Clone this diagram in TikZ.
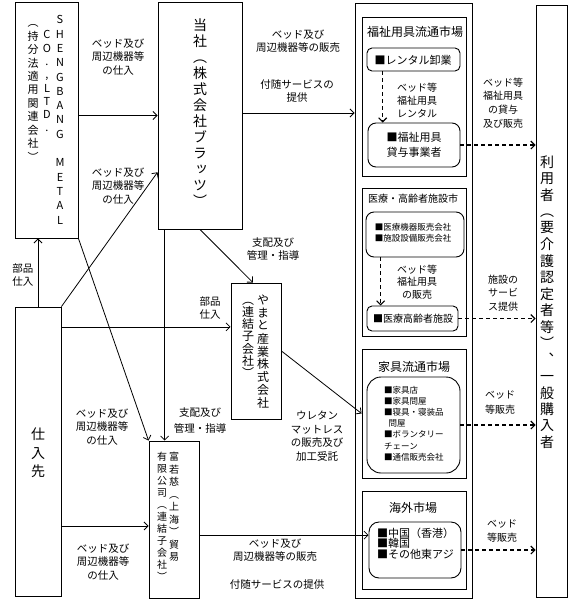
\documentclass[tikz,border=0pt]{standalone}
\usepackage{fontspec}
\newfontfamily\jp{Noto Sans CJK JP}
\newfontfamily\jpv[RawFeature=+vert]{Noto Sans CJK JP}
\usetikzlibrary{arrows.meta,fit,calc}
\ExplSyntaxOn
\NewDocumentCommand\vt{m m}{
  \vbox:n {
    \offinterlineskip
    \tl_map_inline:nn {#2} {
      \hbox_to_wd:nn {1.2em} { \hss \vbox_to_ht:nn {#1} { \vss \hbox:n { \vphantom{国} ##1 } \vss } \hss }
    }
  }
}
\ExplSyntaxOff
\begin{document}
\begin{tikzpicture}[x=1pt,y=-1pt,
  box/.style={draw, line width=0.9pt, inner sep=0pt},
  rbox/.style={draw, line width=0.9pt, inner sep=0pt, rounded corners=#1},
  arr/.style={-{Straight Barb[length=4pt,width=8pt]}, line width=0.8pt},
  darr/.style={arr, dash pattern=on 4pt off 3pt, line width=1.1pt},
  lbl/.style={font=\jp\fontsize{10.5}{13.5}\selectfont, align=center, inner sep=0pt},
  slbl/.style={font=\jp\fontsize{10}{13}\selectfont, align=center, inner sep=0pt},
  vtx/.style={font=\jpv\fontsize{#1}{#1}\selectfont, inner sep=0pt},
  ttl/.style={font=\jp\fontsize{#1}{#1}\selectfont, inner sep=0pt}
]
\useasboundingbox (0,0) rectangle (570,600);

% boxes
\node[box, fit={(15,2)(78,238)}] (shen) {};
\node[box, fit={(158,2)(242,229)}] (tosha) {};
\node[box, fit={(15,307)(61,596)}] (shiire) {};
\node[box, fit={(231,283)(281,419)}] (yamato) {};
\node[box, fit={(149,441)(199,598)}] (fuja) {};
\node[box, fit={(355,3)(472,598)}] (outer) {};
\node[box, fit={(536,5)(567,597)}] (user) {};
\node[box, fit={(362,17)(466,176)}] (m1) {};
\node[rbox=5pt, fit={(367,48)(460,71)}] (r1a) {};
\node[rbox=8pt, fit={(368,123)(460,167)}] (r1b) {};
\node[box, fit={(362,188)(466,336)}] (m2) {};
\node[rbox=8pt, fit={(366,212)(464,257)}] (r2a) {};
\node[rbox=5pt, fit={(367,306)(458,331)}] (r2b) {};
\node[box, fit={(362,349)(466,478)}] (m3) {};
\node[rbox=14pt, fit={(367,377)(460,473)}] (r3) {};
\node[box, fit={(362,491)(466,589)}] (m4) {};
\node[rbox=10pt, fit={(369,522)(461,578)}] (r4) {};

% vertical texts
\node[vtx=11] (tshen1) at (60,120) {\vt{14.3pt}{SHENGBANG{}METAL}};
\node[vtx=11] (tshen2) at (47,81.5) {\vt{13.3pt}{CO.,LTD.}};
\node[vtx=11] (tshen3) at (33,90) {\vt{13.4pt}{（持分法適用関連会社）}};
\node[vtx=14] (ttosha) at (200,113) {\vt{16pt}{当社（株式会社ブラッツ）}};
\node[vtx=14] (tshiire) at (38,453) {\vt{18.5pt}{仕入先}};
\node[vtx=14] (tuser) at (547,302) {\vt{16.5pt}{利用者（要介護認定者等）、一般購入者}};
\node[vtx=12] (tyam1) at (263,351.5) {\vt{12.9pt}{やまと産業株式会社}};
\node[vtx=12] (tyam2) at (248,336.5) {\vt{12.2pt}{（連結子会社）}};
\node[vtx=10] (tfuja1) at (174,507) {\vt{12.5pt}{富若慈（上海）貿易}};
\node[vtx=10] (tfuja2) at (162,517) {\vt{12pt}{有限公司（連結子会社）}};

% market texts
\node[ttl=12] (t1) at (415,32) {福祉用具流通市場};
\node[ttl=10] (t2) at (413,199) {医療・高齢者施設市};
\node[ttl=12] (t3) at (414,367) {家具流通市場};
\node[ttl=12] (t4) at (413,508) {海外市場};
\node[ttl=11] (tr1a) at (413,60) {■レンタル卸業};
\node[font=\jp\fontsize{11}{15}\selectfont, align=center, inner sep=0pt] (tr1b) at (414,145) {■福祉用具\\貸与事業者};
\node[font=\jp\fontsize{8.5}{11}\selectfont, align=center, inner sep=0pt] (tr2a) at (413,233) {■医療機器販売会社\\■施設設備販売会社};
\node[ttl=10] (tr2b) at (413,319) {■医療高齢者施設};
\node[font=\jp\fontsize{8.5}{11.17}\selectfont, align=left, inner sep=0pt, anchor=west] (tr3) at (384,423.5) {■家具店\\■家具問屋\\■寝具・寝装品\\\hspace*{4.5pt}問屋\\■ボランタリー\\チェーン\\■通信販売会社};
\node[font=\jp\fontsize{11}{10.5}\selectfont, align=left, inner sep=0pt, anchor=west] (tr4) at (377,543.5) {■中国（香港）\\■韓国\\■その他東アジ};

% connectors
\draw[arr] (shen.east |- tosha.west) -- (tosha.west);
\draw[arr] (shiire.north) -- (shiire.north |- shen.south);
\coordinate (toshaIn) at ($(tosha.north west)!0.749!(tosha.south west)$);
\draw[arr] (shiire.north east) -- (toshaIn);
\draw[arr] (shen.south east) -- (fuja.north west);
\coordinate (yamIn) at ($(yamato.north west)!0.324!(yamato.south west)$);
\draw[arr] (shiire.east |- yamIn) -- (yamIn);
\coordinate (yamTop) at ($(yamato.north west)!0.44!(yamato.north east)$);
\draw[arr] (tosha.south) -- (yamTop);
\coordinate (toshaBot) at ($(tosha.south west)!0.083!(tosha.south east)$);
\draw[arr] (toshaBot) -- (toshaBot |- fuja.north);
\coordinate (fujaIn) at ($(fuja.north west)!0.541!(fuja.south west)$);
\draw[arr] (shiire.east |- fujaIn) -- (fujaIn);
\coordinate (toshaOut) at ($(tosha.north east)!0.489!(tosha.south east)$);
\draw[arr] (toshaOut) -- (toshaOut -| outer.west);
\draw[arr] (yamato.east) -- (m3.west);
\coordinate (fujaOut) at ($(fuja.north east)!0.599!(fuja.south east)$);
\draw[arr] (fujaOut) -- (fujaOut -| r4.west);

\coordinate (r1aOut) at ($(r1a.south west)!0.172!(r1a.south east)$);
\draw[darr] (r1aOut) -- (r1aOut |- r1b.north);
\draw[darr] (r1b.east) -- (r1b.east -| user.west);
\coordinate (r2aOut) at ($(r2a.south west)!0.153!(r2a.south east)$);
\draw[darr] (r2aOut) -- (r2aOut |- r2b.north);
\draw[darr] (r2b.east) -- (r2b.east -| user.west);
\draw[darr] (r3.east) -- (r3.east -| user.west);
\draw[darr] (r4.east) -- (r4.east -| user.west);

% labels
\node[lbl] (l1) at (118,57) {ベッド及び\\周辺機器等\\の仕入};
\node[lbl] (l2) at (118,186) {ベッド及び\\周辺機器等\\の仕入};
\node[lbl] (l3) at (23,275) {部品\\仕入};
\node[lbl] (l4) at (210,308) {部品\\仕入};
\node[lbl] (l5) at (273,249) {支配及び\\管理・指導};
\node[font=\jp\fontsize{10.5}{16}\selectfont, align=center, inner sep=0pt] (l6) at (200,421) {支配及び\\管理・指導};
\node[lbl] (l7) at (102,427) {ベッド及び\\周辺機器等\\の仕入};
\node[lbl] (l8) at (103,562) {ベッド及び\\周辺機器等\\の仕入};
\node[lbl] (l9) at (298,41) {ベッド及び\\周辺機器等の販売};
\node[lbl] (l10) at (297,91) {付随サービスの\\提供};
\node[lbl] (l11) at (317,436) {ウレタン\\マットレス\\の販売及び\\加工受託};
\node[lbl] (l12) at (275,550) {ベッド及び\\周辺機器等の販売};
\node[lbl] (l13) at (277,585) {付随サービスの提供};
\node[slbl] (d1) at (417,100) {ベッド等\\福祉用具\\レンタル};
\node[font=\jp\fontsize{10}{13.7}\selectfont, align=center, inner sep=0pt] (d2) at (503,103) {ベッド等\\福祉用具\\の貸与\\及び販売};
\node[font=\jp\fontsize{10}{12.5}\selectfont, align=center, inner sep=0pt] (d3) at (417,282) {ベッド等\\福祉用具\\の販売};
\node[font=\jp\fontsize{10}{13.5}\selectfont, align=center, inner sep=0pt] (d4) at (503,293) {施設の\\サービ\\ス提供};
\node[font=\jp\fontsize{10}{15}\selectfont, align=center, inner sep=0pt] (d5) at (500,403) {ベッド\\等販売};
\node[font=\jp\fontsize{10}{14}\selectfont, align=center, inner sep=0pt] (d6) at (502,531) {ベッド\\等販売};
\end{tikzpicture}
\end{document}
